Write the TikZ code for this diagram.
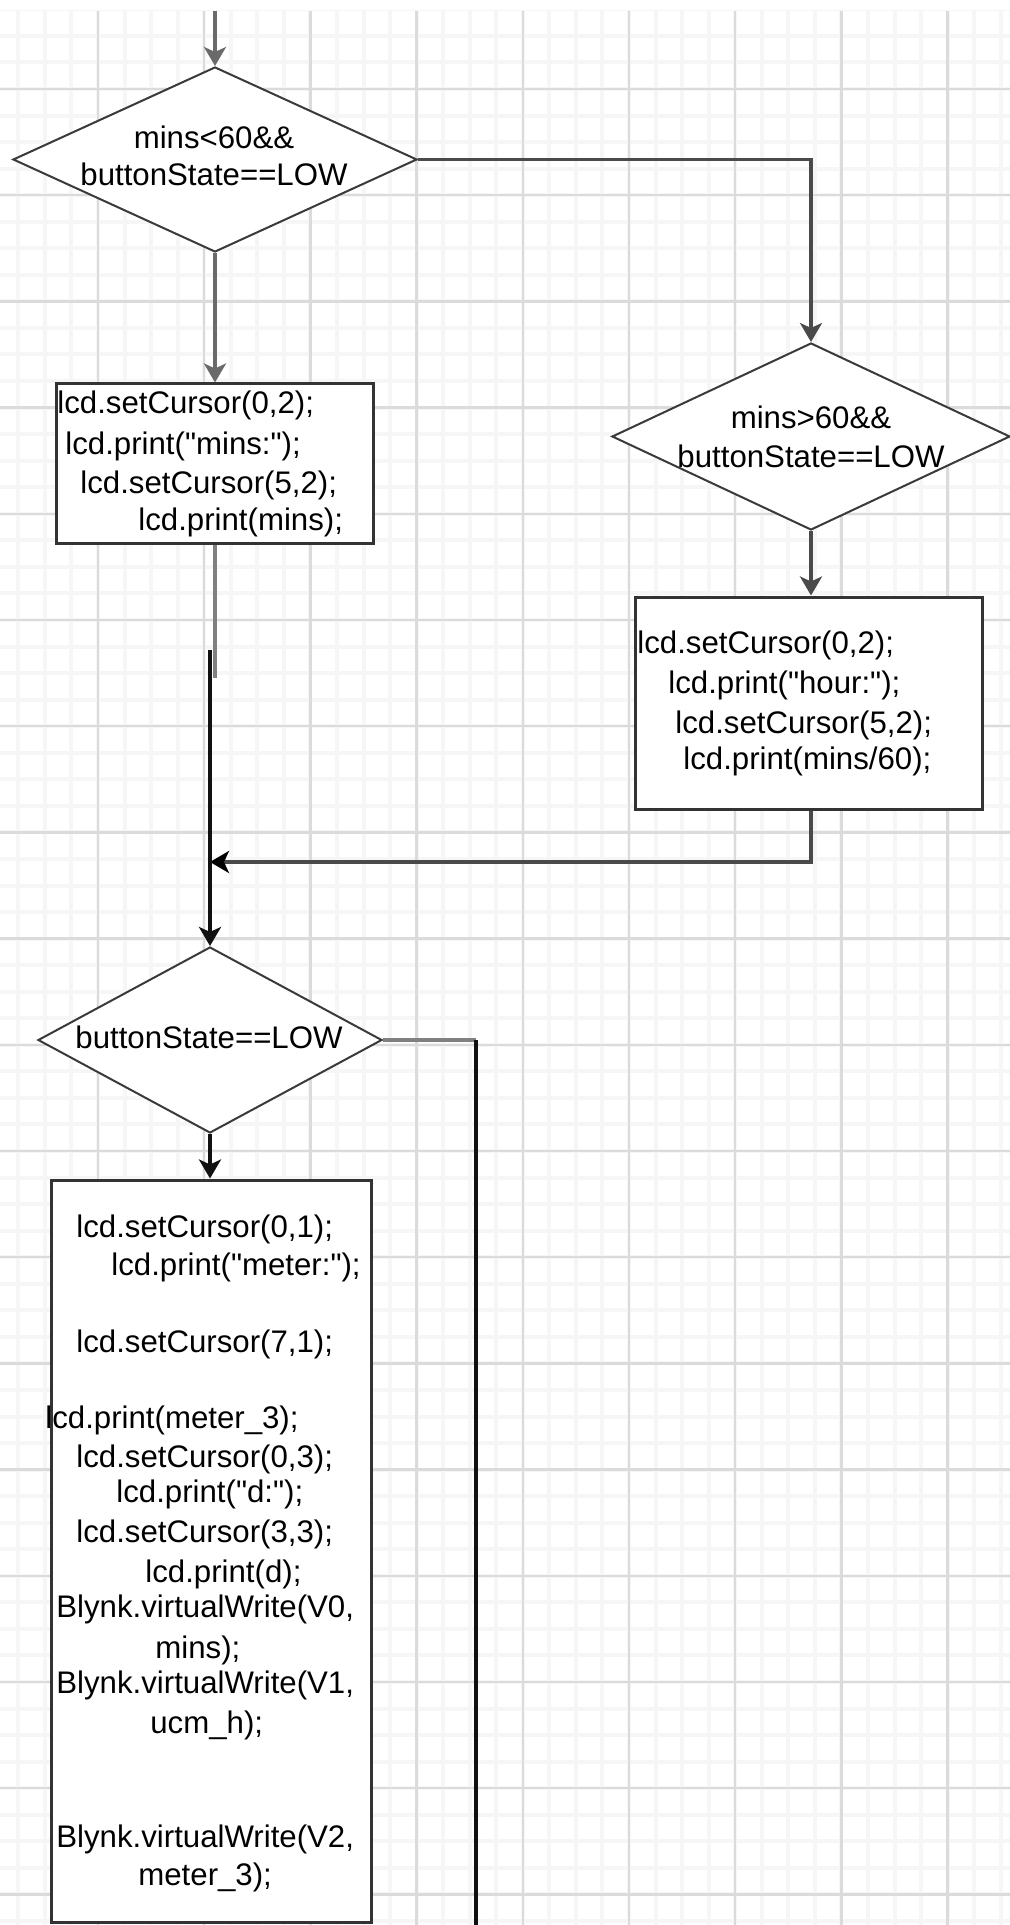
\documentclass[tikz,border=0pt]{standalone}
\usepackage{fontspec}
\newfontfamily\codefont{Liberation Sans}
\usetikzlibrary{shapes.geometric,arrows.meta}
\definecolor{gminor}{HTML}{F6F6F6}
\definecolor{gmajor}{HTML}{DBDBDB}
\definecolor{boxc}{HTML}{333333}
\definecolor{diac}{HTML}{3A3A3A}
\definecolor{lgrey}{HTML}{6A6A6A}
\definecolor{mgrey}{HTML}{4A4A4A}
\definecolor{dk}{HTML}{111111}
\begin{document}
\begin{tikzpicture}[x=0.5pt,y=-0.5pt,
  txt/.style={anchor=base west,inner sep=0pt,font=\codefont\fontsize{15.6pt}{19pt}\selectfont},
  ctxt/.style={anchor=base,inner sep=0pt,font=\codefont\fontsize{15.6pt}{19pt}\selectfont},
  box/.style={rectangle,draw=boxc,line width=1.5pt,fill=white,inner sep=0pt},
  dia/.style={diamond,draw=diac,line width=1pt,fill=white,inner sep=0pt},
  greyconn/.style={draw=lgrey,line width=1.6pt},
  midconn/.style={draw=mgrey,line width=1.6pt},
  darkconn/.style={draw=dk,line width=1.7pt},
  witharrow/.style={-{Stealth[length=9.5pt,width=11pt,inset=2.5pt]}},
  blackarrow/.style={-{Stealth[length=9.5pt,width=11pt,inset=2.5pt,color=black]}}
]
\useasboundingbox (0,0) rectangle (1010,1925);
\fill[white] (0,0) rectangle (1010,1925);
% grid
\begin{scope}
\clip (0,11) rectangle (1010,1925);
\foreach \k in {0,...,38} \draw[gminor,line width=2pt] ({18.35+\k*26.55},11) -- ++(0,1914);
\foreach \k in {0,...,72} \draw[gminor,line width=2pt] (0,{9.35+\k*26.55}) -- ++(1010,0);
\foreach \k in {0,...,8} \draw[gmajor,line width=1.2pt] ({98+\k*106.2},11) -- ++(0,1914);
\foreach \k in {0,...,17} \draw[gmajor,line width=1.2pt] (0,{89+\k*106.2}) -- ++(1010,0);
\end{scope}

% shapes
\node[dia,minimum width=202pt,minimum height=92.5pt] (d1) at (215,159.5) {};
\node[dia,minimum width=199pt,minimum height=93.5pt] (d2) at (811,436.5) {};
\node[dia,minimum width=172pt,minimum height=93pt] (d3) at (210,1040) {};
\node[box,minimum width=158.5pt,minimum height=79.5pt] (b1) at (215,463.5) {};
\node[box,minimum width=173.5pt,minimum height=106pt] (b2) at (808.5,703) {};
\node[box,minimum width=160pt,minimum height=371pt] (b3) at (211,1551) {};

% coordinates
\coordinate (start) at (215,11);
\coordinate (b1end) at (215,678);
\coordinate (kstart) at (210,650);
\coordinate (jn) at (210,862);
\coordinate (rc) at (476,1040);
\coordinate (rend) at (476,1925);

% connectors
\draw[greyconn,witharrow] (start) -- (d1.north);
\draw[greyconn,witharrow] (d1.south) -- (d1.south |- b1.north);
\draw[midconn,witharrow] (d1.east) -| (d2.north);
\draw[midconn,witharrow] (d2.south) -- (d2.south |- b2.north);
\draw[midconn,blackarrow] (b2.south -| d2.south) |- (jn);
\draw[draw=gray,line width=1.6pt] (b1.south) -- (b1end);
\draw[darkconn,witharrow] (kstart) -- (jn) -- (d3.north);
\draw[darkconn,witharrow] (d3.south) -- (d3.south |- b3.north);
\draw[draw=gray,line width=1.6pt] (d3.east) -- (rc);
\draw[darkconn] (rc) -- (rend);

% diamond texts
\node[ctxt] (d1a) at (214,149) {mins<60\&\&};
\node[ctxt] (d1b) at (214,186) {buttonState==LOW};
\node[ctxt] (d2a) at (811,429) {mins>60\&\&};
\node[ctxt] (d2b) at (811,467) {buttonState==LOW};
\node[ctxt] (d3a) at (209,1048) {buttonState==LOW};

% box1 texts
\node[txt] (b1a) at (57,414) {lcd.setCursor(0,2);};
\node[txt] (b1b) at (65,455) {lcd.print("mins:");};
\node[txt] (b1c) at (80,494) {lcd.setCursor(5,2);};
\node[txt] (b1d) at (138,530) {lcd.print(mins);};

% box2 texts
\node[txt] (b2a) at (637,653) {lcd.setCursor(0,2);};
\node[txt] (b2b) at (668,693) {lcd.print("hour:");};
\node[txt] (b2c) at (675,733) {lcd.setCursor(5,2);};
\node[txt] (b2d) at (683,769) {lcd.print(mins/60);};

% box3 texts
\node[txt] (b3a) at (76,1237) {lcd.setCursor(0,1);};
\node[txt] (b3b) at (111,1275) {lcd.print("meter:");};
\node[txt] (b3c) at (76,1352) {lcd.setCursor(7,1);};
\node[txt] (b3d) at (45,1428) {lcd.print(meter\_3);};
\node[txt] (b3e) at (76,1467) {lcd.setCursor(0,3);};
\node[txt] (b3f) at (116,1502) {lcd.print("d:");};
\node[txt] (b3g) at (76,1542) {lcd.setCursor(3,3);};
\node[txt] (b3h) at (145,1582) {lcd.print(d);};
\node[txt] (b3i) at (56,1617) {Blynk.virtualWrite(V0,};
\node[txt] (b3j) at (155,1658) {mins);};
\node[txt] (b3k) at (56,1693) {Blynk.virtualWrite(V1,};
\node[txt] (b3l) at (150,1733) {ucm\_h);};
\node[txt] (b3m) at (56,1847) {Blynk.virtualWrite(V2,};
\node[txt] (b3n) at (138,1885) {meter\_3);};
\end{tikzpicture}
\end{document}
